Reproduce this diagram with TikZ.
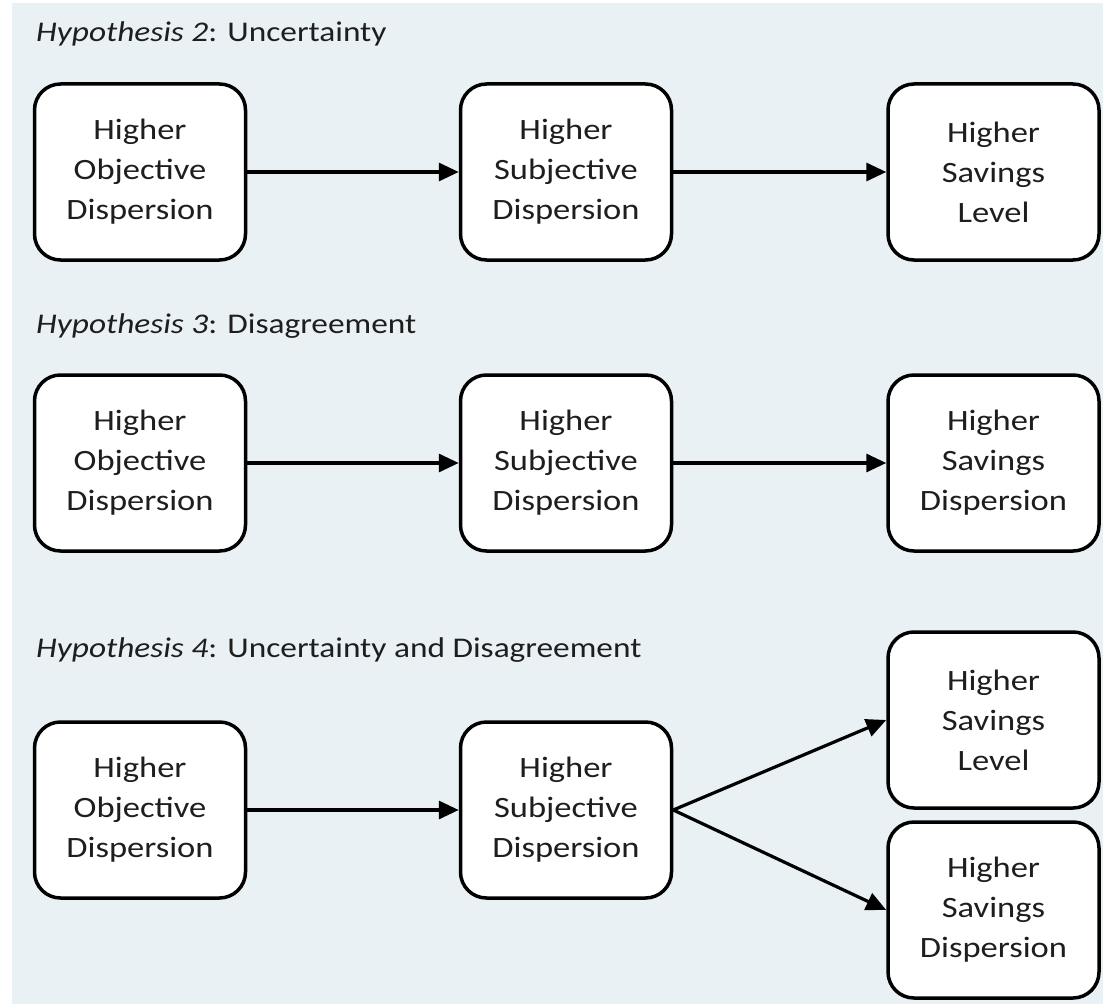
\documentclass[tikz,border=0pt]{standalone}
\usepackage{fontspec}
\setmainfont{Carlito}[FakeStretch=1.17]
\usetikzlibrary{arrows.meta}
\definecolor{bgcol}{RGB}{233,241,244}
\definecolor{txt}{RGB}{30,30,30}
\begin{document}
\begin{tikzpicture}[x=1pt,y=-1pt,
  box/.style={draw=black, fill=white, line width=3.5pt, rounded corners=26pt,
    minimum width=211pt, minimum height=176pt, align=center, text=txt,
    font=\fontsize{29.5}{40}\selectfont, inner sep=0pt},
  title/.style={anchor=base west, text=txt, inner sep=0pt, font=\fontsize{28.5}{40}\selectfont},
  conn/.style={line width=3.2pt, -{Triangle[length=20pt,width=18pt]}}]
\useasboundingbox (0,0) rectangle (1103,1006);
\fill[bgcol] (12,3) rectangle (1103,1004);

\node[title] (t2) at (36,42) {\textit{Hypothesis 2}: Uncertainty};
\node[title] (t3) at (36,333) {\textit{Hypothesis 3}: Disagreement};
\node[title] (t4) at (36,657) {\textit{Hypothesis 4}: Uncertainty and Disagreement};

\node[box] (a1) at (140,172) {Higher\\Objective\\Dispersion};
\node[box] (b1) at (566,172) {Higher\\Subjective\\Dispersion};
\node[box] (c1) at (993.5,172) {Higher\\Savings\\Level};

\node[box] (a2) at (140,463) {Higher\\Objective\\Dispersion};
\node[box] (b2) at (566,463) {Higher\\Subjective\\Dispersion};
\node[box] (c2) at (993.5,463) {Higher\\Savings\\Dispersion};

\node[box] (a3) at (140,810) {Higher\\Objective\\Dispersion};
\node[box] (b3) at (566,810) {Higher\\Subjective\\Dispersion};
\node[box] (c3) at (993.5,720) {Higher\\Savings\\Level};
\node[box] (d3) at (993.5,910) {Higher\\Savings\\Dispersion};

\draw[conn] (a1) -- (b1);
\draw[conn] (b1) -- (c1);
\draw[conn] (a2) -- (b2);
\draw[conn] (b2) -- (c2);
\draw[conn] (a3) -- (b3);
\draw[conn] (b3.east) -- (c3.west);
\draw[conn] (b3.east) -- (d3.west);
\end{tikzpicture}
\end{document}
